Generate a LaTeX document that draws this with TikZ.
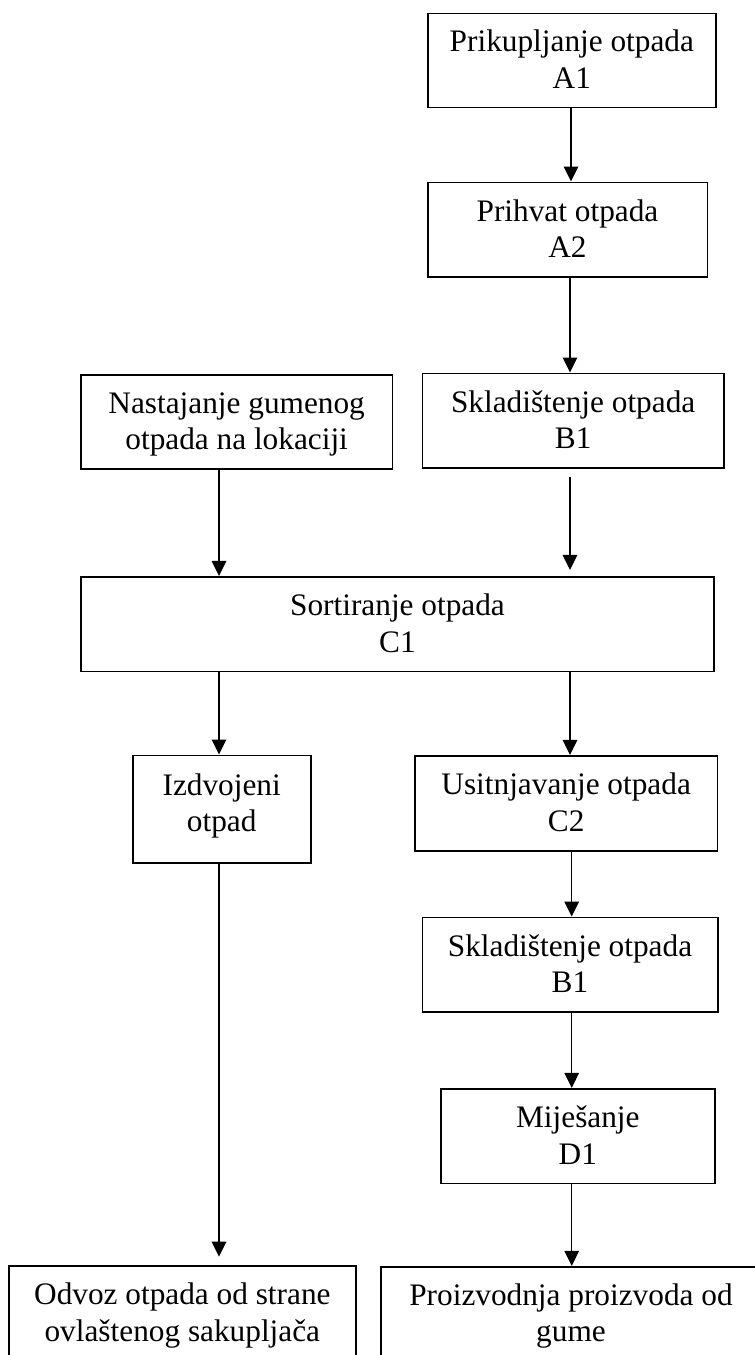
\documentclass[tikz,border=0pt]{standalone}
\usepackage{fontspec}
\setmainfont{Liberation Serif}
\usetikzlibrary{arrows.meta}
\begin{document}
\begin{tikzpicture}[x=1pt,y=-1pt,
  box/.style={draw, line width=1.6pt, rectangle, inner sep=0pt, align=center,
    font=\fontsize{31.3}{36.6}\selectfont, text depth=2pt},
  arr/.style={line width=1.5pt, -{Triangle[width=14.5pt,length=15pt]}}]
\clip (0,0) rectangle (755,1355);
% boxes
\node[box, minimum width=288.3pt, minimum height=94pt] (A1) at (571.85,60.3) {Prikupljanje otpada\\A1};
\node[box, minimum width=279.6pt, minimum height=94.4pt] (A2) at (567.5,229.5) {Prihvat otpada\\A2};
\node[box, minimum width=301.7pt, minimum height=94.4pt] (B1) at (573.15,420.5) {Skladištenje otpada\\B1};
\node[box, minimum width=311.3pt, minimum height=94pt] (N) at (236.65,422) {Nastajanje gumenog\\otpada na lokaciji};
\node[box, minimum width=633pt, minimum height=94.6pt] (C1) at (397.5,624) {Sortiranje otpada\\C1};
\node[box, minimum width=178pt, minimum height=107.4pt, text depth=12.5pt] (Iz) at (221.7,809) {Izdvojeni\\otpad};
\node[box, minimum width=302.3pt, minimum height=95pt] (C2) at (566.15,803.2) {Usitnjavanje otpada\\C2};
\node[box, minimum width=295.4pt, minimum height=94.7pt] (B1b) at (570,964.65) {Skladištenje otpada\\B1};
\node[box, minimum width=274.3pt, minimum height=94.6pt] (D1) at (577.85,1136) {Miješanje\\D1};
\node[box, minimum width=346.7pt, minimum height=94pt] (Od) at (182.35,1313) {Odvoz otpada od strane\\ovlaštenog sakupljača};
\node[box, minimum width=380pt, minimum height=94pt] (Pr) at (571,1313.7) {Proizvodnja proizvoda od\\gume};
% arrow columns
\coordinate (xa) at (571,0);
\coordinate (xb) at (570,0);
\coordinate (xc) at (571.7,0);
\coordinate (xl) at (219,0);
% connectors
\draw[arr] (A1.south -| xa) -- (A2.north -| xa);
\draw[arr] (A2.south -| xb) -- (B1.north -| xb);
\draw[arr] (N.south -| xl) -- (C1.north -| xl);
\draw[arr, shorten <=8pt, shorten >=6pt] (B1.south -| xb) -- (C1.north -| xb);
\draw[arr] (C1.south -| xl) -- (Iz.north -| xl);
\draw[arr] (C1.south -| xb) -- (C2.north -| xb);
\draw[arr, shorten >=8.5pt] (Iz.south -| xl) -- (Od.north -| xl);
\draw[arr] (C2.south -| xc) -- (B1b.north -| xc);
\draw[arr] (B1b.south -| xc) -- (D1.north -| xc);
\draw[arr] (D1.south -| xc) -- (Pr.north -| xc);
\end{tikzpicture}
\end{document}
